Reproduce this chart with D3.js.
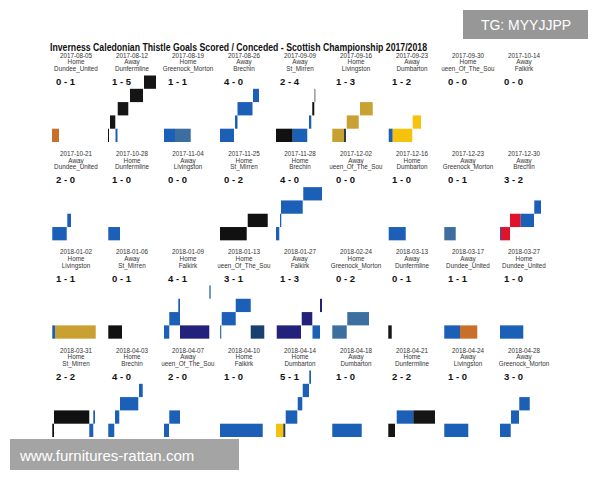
<!DOCTYPE html>
<html><head><meta charset="utf-8">
<script src="https://cdn.jsdelivr.net/npm/d3@7"></script>
<style>body{margin:0;background:#fff;}svg{display:block;font-family:"Liberation Sans",Arial,sans-serif;}</style>
</head><body><div id="chart"></div>
<script>
const title = "Inverness Caledonian Thistle Goals Scored / Conceded - Scottish Championship 2017/2018";
const dates = ["2017-08-05","2017-08-12","2017-08-19","2017-08-26","2017-09-09","2017-09-16","2017-09-23","2017-09-30","2017-10-14",
"2017-10-21","2017-10-28","2017-11-04","2017-11-25","2017-11-28","2017-12-02","2017-12-16","2017-12-23","2017-12-30",
"2018-01-02","2018-01-06","2018-01-09","2018-01-13","2018-01-27","2018-02-24","2018-03-13","2018-03-17","2018-03-27",
"2018-03-31","2018-04-03","2018-04-07","2018-04-10","2018-04-14","2018-04-18","2018-04-21","2018-04-24","2018-04-28"];
const venues = ["Home","Away","Home","Away","Away","Home","Away","Home","Away",
"Away","Home","Away","Home","Home","Away","Home","Away","Away",
"Home","Away","Home","Home","Away","Home","Away","Away","Home",
"Home","Home","Away","Home","Home","Away","Home","Away","Away"];
const opponents = ["Dundee_United","Dunfermline","Greenock_Morton","Brechin","St_Mirren","Livingston","Dumbarton","Queen_Of_The_South","Falkirk",
"Dundee_United","Dunfermline","Livingston","St_Mirren","Brechin","Queen_Of_The_South","Dumbarton","Greenock_Morton","Brechin",
"Livingston","St_Mirren","Falkirk","Queen_Of_The_South","Falkirk","Greenock_Morton","Dunfermline","Dundee_United","Dundee_United",
"St_Mirren","Brechin","Queen_Of_The_South","Falkirk","Dumbarton","Dumbarton","Dunfermline","Livingston","Greenock_Morton"];
const scores = ["0 - 1","1 - 5","1 - 1","4 - 0","2 - 4","1 - 3","1 - 2","0 - 0","0 - 0",
"2 - 0","1 - 0","0 - 0","0 - 2","4 - 0","0 - 0","1 - 0","0 - 1","3 - 2",
"1 - 1","0 - 1","4 - 1","3 - 1","1 - 3","0 - 2","0 - 1","1 - 1","1 - 0",
"2 - 2","4 - 0","2 - 0","1 - 0","5 - 1","1 - 0","2 - 2","1 - 0","3 - 0"];
// goal segments per match: [start minute, end minute, level, team]
const segments = [
 [[0,12.6,0,"OPP"]],
 [[0,1.8,0,"OPP"],[13.5,17.1,0,"ICT"],[3.6,13.1,1,"OPP"],[17.5,36.5,2,"OPP"],[39.6,63,3,"OPP"],[64.8,86.4,4,"OPP"]],
 [[0,19.8,0,"ICT"],[19.8,48.1,0,"OPP"]],
 [[0,25.2,0,"ICT"],[27,31.5,1,"ICT"],[31.5,58.5,2,"ICT"],[59.4,70.2,3,"ICT"]],
 [[0,30.1,0,"OPP"],[30.1,56.3,0,"ICT"],[59.4,63.5,1,"ICT"],[65.3,68.9,2,"OPP"],[68.4,71.5,3,"GREY"]],
 [[0.5,21.6,0,"OPP"],[21.6,25.2,0,"DARK"],[26.5,48.1,1,"OPP"],[50.4,73.3,2,"OPP"]],
 [[1.3,8.5,0,"ICT"],[8.5,43.7,0,"OPP"],[44.5,59.4,1,"OPP"]],
 [],
 [],
 [[0.5,26.5,0,"ICT"],[27.5,34.2,1,"ICT"]],
 [[0.5,21.6,0,"ICT"]],
 [],
 [[0,48.1,0,"OPP"],[49.9,85.9,1,"OPP"]],
 [[0,5.9,0,"ICT"],[7.2,9.5,1,"ICT"],[9,48.1,2,"ICT"],[49.1,82.8,3,"ICT"]],
 [],
 [[1.3,31.9,0,"ICT"]],
 [[0.5,21.1,0,"OPP"]],
 [[0,1.8,0,"ICT"],[1.8,18,0,"OPP"],[18,37.3,1,"OPP"],[37.3,61.2,1,"ICT"],[61.7,73.8,2,"ICT"]],
 [[0.5,5.4,0,"ICT"],[5.4,78.7,0,"OPP"]],
 [[0.5,25.2,0,"OPP"]],
 [[0,9.5,0,"ICT"],[28.8,81.5,0,"OPP"],[9.5,28.8,1,"ICT"],[25.7,28.8,2,"ICT"],[81.5,84.1,3,"STEEL"]],
 [[0,2.3,0,"STEEL"],[55.3,79.7,0,"OPP"],[3.1,28.3,1,"ICT"],[28.3,55.3,2,"ICT"]],
 [[1.3,45,0,"OPP"],[65.7,79.2,0,"ICT"],[46.3,65.3,1,"OPP"],[79.2,82.8,2,"OPP"]],
 [[0.5,26.5,0,"OPP"],[27.5,66.6,1,"OPP"]],
 [[0.5,6.7,0,"OPP"]],
 [[0.5,28.8,0,"ICT"],[28.8,59.9,0,"OPP"]],
 [[0,41.9,0,"ICT"]],
 [[0.5,3.6,0,"OPP"],[67.1,74.3,0,"ICT"],[3.6,67.1,1,"OPP"],[74.3,77.4,1,"ICT"]],
 [[0.5,11.3,0,"ICT"],[12.6,20.3,1,"ICT"],[21.6,54.5,2,"ICT"],[55.8,62.5,3,"ICT"]],
 [[0,9,0,"ICT"],[9.5,28.8,1,"ICT"]],
 [[0,76.9,0,"ICT"]],
 [[0,13.1,0,"OPP"],[13.1,16.7,0,"DARK"],[17.5,38.3,1,"ICT"],[39.1,47.3,2,"ICT"],[48.1,59.4,3,"ICT"],[59.9,63,4,"ICT"]],
 [[0.5,53.5,0,"ICT"]],
 [[0.5,12.6,0,"OPP"],[15.7,45.5,1,"ICT"],[45.5,84.6,1,"OPP"]],
 [[0.5,43.7,0,"ICT"]],
 [[0,19.3,0,"ICT"],[19.8,34.2,1,"ICT"],[34.7,53.5,2,"ICT"]]
];
const teamColors = {
  ICT:"#1b5fb6", GREY:"#a8a8a8", DARK:"#2c3b52", STEEL:"#3f74a8",
  Dundee_United:"#c8702a", Dunfermline:"#151515", St_Mirren:"#111111",
  Greenock_Morton:"#3c6f9f", Livingston:"#c9a132", Dumbarton:"#f5c30c",
  Falkirk:"#22227c", Queen_Of_The_South:"#18416f", Brechin:"#e1132b"
};

const W = 600, H = 480, nCols = 9;
const svg = d3.select("#chart").append("svg").attr("width", W).attr("height", H);
svg.append("rect").attr("width", W).attr("height", H).attr("fill", "#fff");

const colX = d3.scaleLinear().domain([0, nCols - 1]).range([76, 524]);
const rowY = d3.scaleLinear().domain([0, 3]).range([0, 295]);
const minuteX = d3.scaleLinear().domain([0, 90]).range([-24, 26]);
const levelY = d3.scaleLinear().domain([0, 5]).range([142, 142 - 66.5]);

svg.append("text").attr("x", 50).attr("y", 51).attr("font-size", 10).attr("font-weight", "bold")
  .attr("textLength", 377).attr("lengthAdjust", "spacingAndGlyphs").attr("fill", "#111").text(title);

const defs = svg.append("defs");
dates.forEach((d, i) => {
  const c = i % nCols, r = Math.floor(i / nCols);
  const cx = colX(c), dy = rowY(r);
  defs.append("clipPath").attr("id", "clip" + i).append("rect")
    .attr("x", cx - 26.5).attr("y", dy + 40).attr("width", 53).attr("height", 40);
  const g = svg.append("g");
  const tg = g.append("g").attr("clip-path", `url(#clip${i})`).attr("text-anchor", "middle")
    .attr("font-size", 6.3).attr("fill", "#333");
  tg.append("text").attr("x", cx).attr("y", dy + 57.5).text(d);
  tg.append("text").attr("x", cx).attr("y", dy + 64.2).text(venues[i]);
  tg.append("text").attr("x", cx).attr("y", dy + 70.9).text(opponents[i]);
  g.append("text").attr("x", cx - 20).attr("y", dy + 85).attr("font-size", 9.5).attr("font-weight", "bold")
    .attr("fill", "#111").text(scores[i]);
  g.append("g").attr("transform", `translate(${cx},${dy})`).selectAll("rect").data(segments[i]).join("rect")
    .attr("x", s => minuteX(s[0]))
    .attr("width", s => Math.max(0.8, minuteX(s[1]) - minuteX(s[0])))
    .attr("y", s => levelY(s[2] + 1))
    .attr("height", s => levelY(s[2]) - levelY(s[2] + 1))
    .attr("fill", s => s[3] === "OPP" ? teamColors[opponents[i]] : teamColors[s[3]]);
});

// watermark overlays
svg.append("rect").attr("x", 463).attr("y", 10).attr("width", 125).attr("height", 29).attr("fill", "#8c8c8c").attr("opacity", 0.9);
svg.append("text").attr("x", 526).attr("y", 30).attr("text-anchor", "middle").attr("font-size", 14).attr("fill", "#fff").text("TG: MYYJJPP");
svg.append("rect").attr("x", 10).attr("y", 439).attr("width", 229).attr("height", 31).attr("fill", "#9a9a9a").attr("opacity", 0.9);
svg.append("text").attr("x", 20).attr("y", 461).attr("font-size", 15).attr("fill", "#fff").text("www.furnitures-rattan.com");
</script></body></html>
